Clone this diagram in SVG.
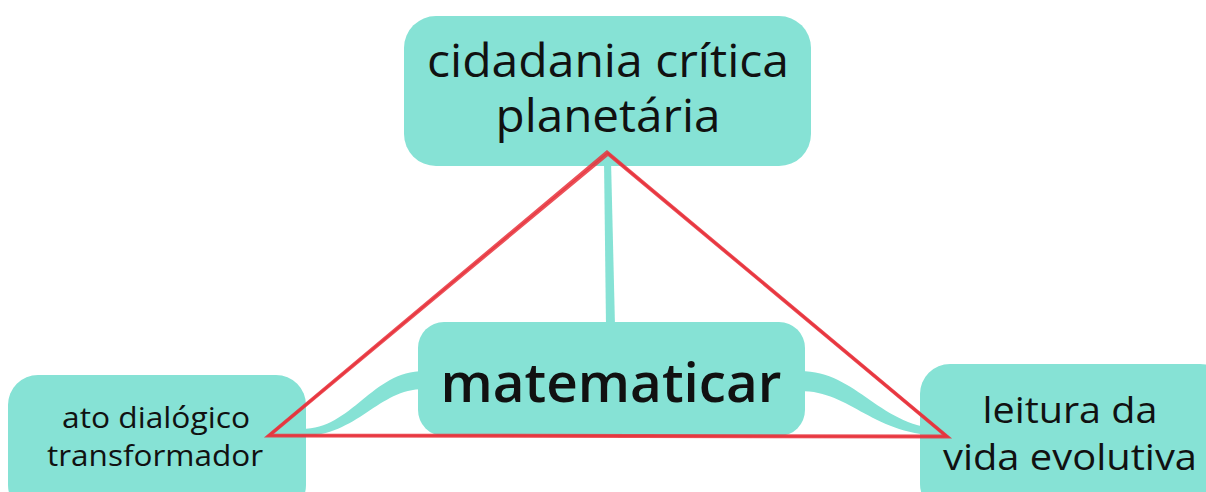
<svg xmlns="http://www.w3.org/2000/svg" width="1206" height="492" viewBox="0 0 1206 492">
<style>
.node{fill:#86e2d5}
.lbl{font-family:"Open Sans","Noto Sans",sans-serif;fill:#111;text-anchor:middle}
.con{fill:#86e2d5}
.red{fill:none;stroke:#e8333c;stroke-width:3;stroke-linejoin:miter;opacity:0.85}
</style>
<rect width="1206" height="492" fill="#fff"/>
<g id="connectors">
<path class="con" d="M604,160 L611,160 L615,326 L606,326 Z"/>
<path class="con" d="M424,371 C372,371 352,429 302,429 L302,436 C358,436 378,389 424,389 Z"/>
<path class="con" d="M800,371 C858,371 880,429 946,429 L946,436 C872,436 852,391 800,391 Z"/>
</g>
<g id="node-top">
<rect class="node" x="404" y="16" width="407" height="150" rx="32"/>
<text class="lbl" x="608" y="77" font-size="45" textLength="362" lengthAdjust="spacingAndGlyphs">cidadania crítica</text>
<text class="lbl" x="608" y="132" font-size="45" textLength="225" lengthAdjust="spacingAndGlyphs">planetária</text>
</g>
<g id="node-center">
<rect class="node" x="418" y="322" width="387" height="114" rx="26"/>
<text class="lbl" x="611" y="402" font-size="54" font-weight="600" textLength="341" lengthAdjust="spacingAndGlyphs">matematicar</text>
</g>
<g id="node-left">
<rect class="node" x="8" y="375" width="298" height="140" rx="30"/>
<text class="lbl" x="156" y="428" font-size="30" textLength="188" lengthAdjust="spacingAndGlyphs">ato dialógico</text>
<text class="lbl" x="155" y="466" font-size="30" textLength="216" lengthAdjust="spacingAndGlyphs">transformador</text>
</g>
<g id="node-right">
<rect class="node" x="920" y="364" width="310" height="150" rx="30"/>
<text class="lbl" x="1070" y="423" font-size="36" textLength="175" lengthAdjust="spacingAndGlyphs">leitura da</text>
<text class="lbl" x="1070" y="470" font-size="36" textLength="254" lengthAdjust="spacingAndGlyphs">vida evolutiva</text>
</g>
<g id="triangle">
<path class="red" d="M607,152 L268,436 L948,437 Z"/>
<path class="red" d="M608,154 L270,435 L946,436 Z" stroke-width="1.5" opacity="0.5"/>
</g>
</svg>
